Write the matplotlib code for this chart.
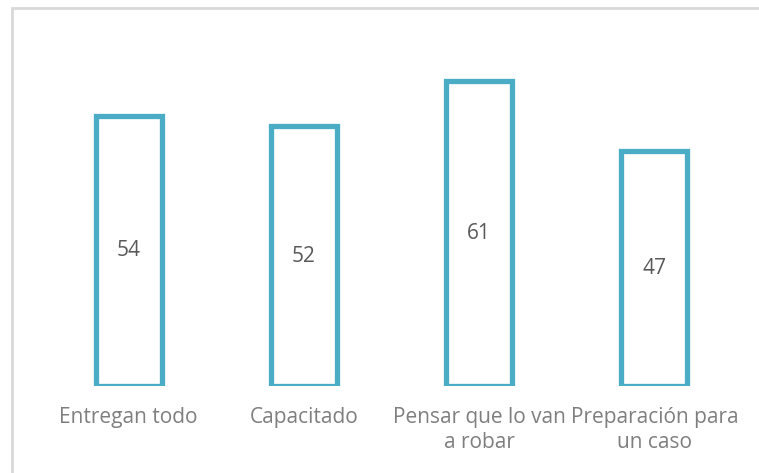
import matplotlib.pyplot as plt
from matplotlib.patches import Rectangle
import numpy as np

categories = ['Entregan todo', 'Capacitado', 'Pensar que lo van\na robar', 'Preparación para\nun caso']
values = [54, 52, 61, 47]

W, H = 759, 473
fig = plt.figure(figsize=(W / 100, H / 100), dpi=100)
plt.rcParams['font.family'] = ['Open Sans', 'DejaVu Sans']

# light grey frame around the chart area
fig.patches.append(Rectangle((12 / W, -0.1), 2, 1.1 - 8 / H, transform=fig.transFigure,
                             fill=False, edgecolor='#D9D9D9', linewidth=2, zorder=0))

ax = fig.add_axes([41 / W, (H - 386) / H, (742 - 41) / W, (386 - 36) / H])
x = np.arange(len(categories))
bars = ax.bar(x, values, width=0.377, color='white', edgecolor='#4BACC6', linewidth=3.8)

for xi, v in zip(x, values):
    ax.text(xi, v / 2, str(v), ha='center', va='center', fontsize=15, color='#595959')

ax.set_xlim(-0.5, 3.5)
ax.set_ylim(0, 70)
ax.set_xticks(x)
ax.set_xticklabels(categories, fontsize=15, color='#7F7F7F', linespacing=1.25)
ax.tick_params(axis='x', length=0, pad=15)
ax.set_yticks([])
for s in ax.spines.values():
    s.set_visible(False)

fig.savefig('out.png', dpi=100)
